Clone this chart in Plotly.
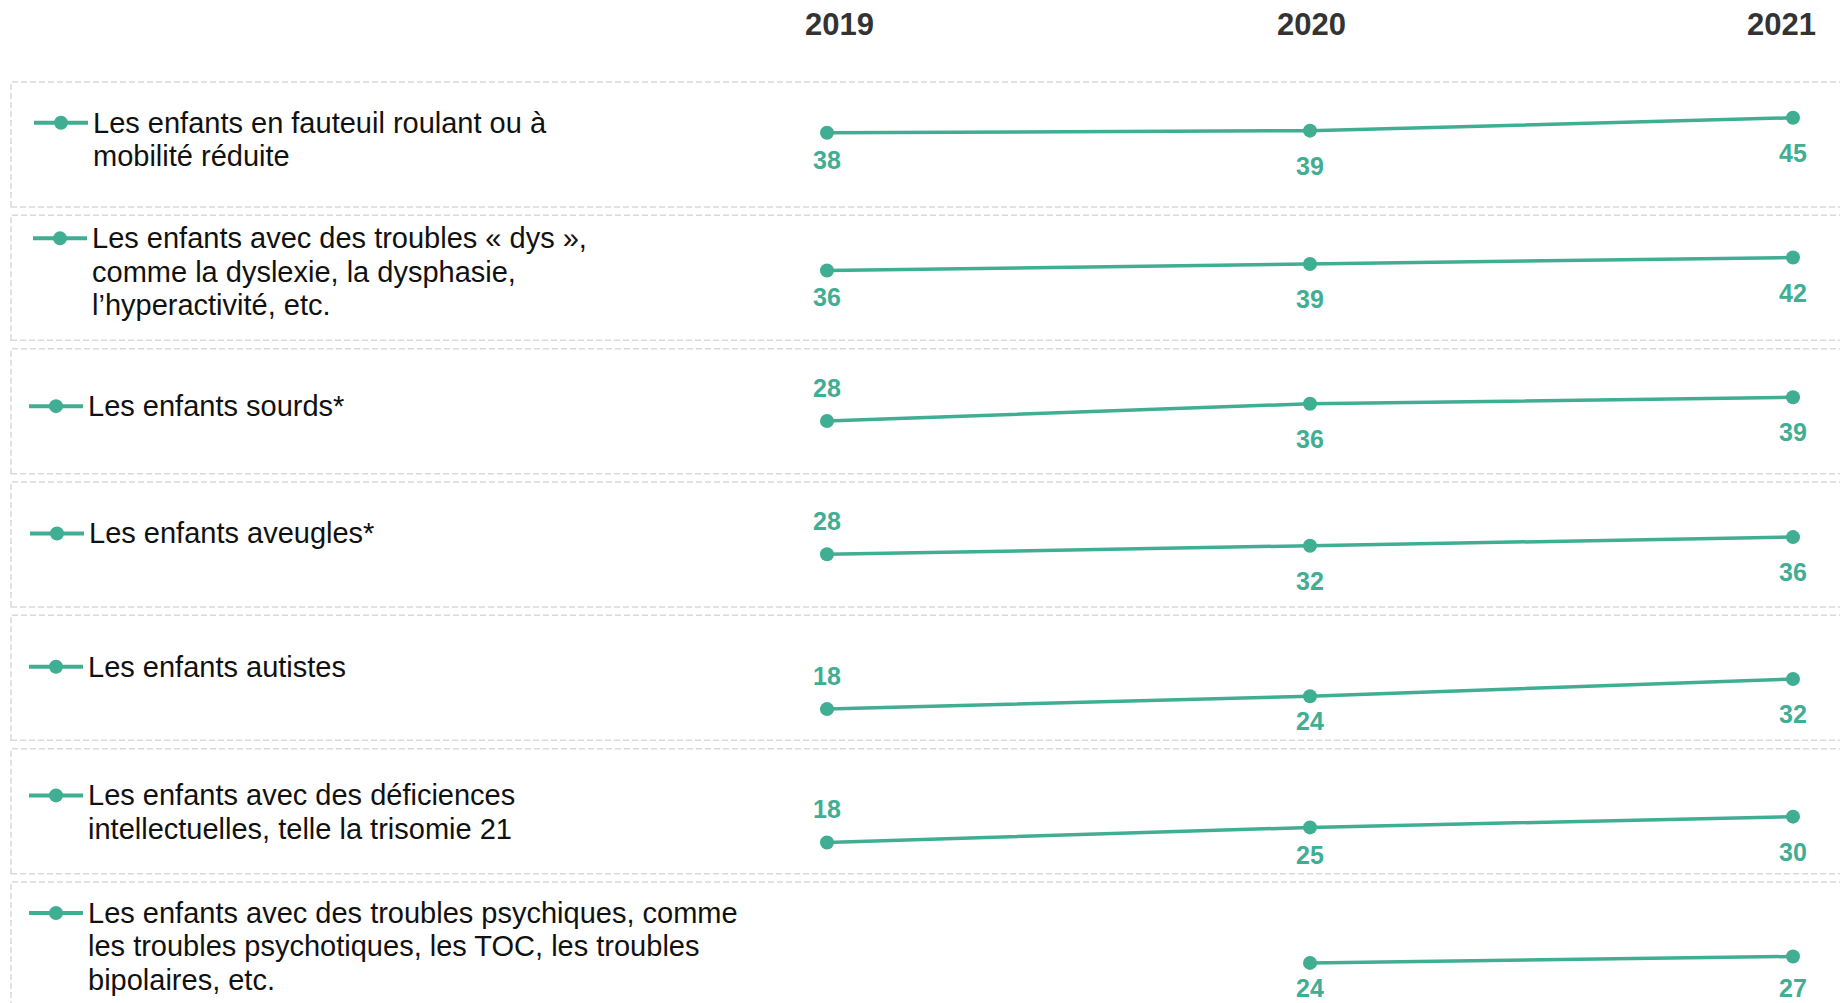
import plotly.graph_objects as go

# ---------------- data ----------------
years = [2019, 2020, 2021]
year_labels = ["2019", "2020", "2021"]

categories = [
    ["Les enfants en fauteuil roulant ou à", "mobilité réduite"],
    ["Les enfants avec des troubles « dys »,", "comme la dyslexie, la dysphasie,", "l’hyperactivité, etc."],
    ["Les enfants sourds*"],
    ["Les enfants aveugles*"],
    ["Les enfants autistes"],
    ["Les enfants avec des déficiences", "intellectuelles, telle la trisomie 21"],
    ["Les enfants avec des troubles psychiques, comme",
     "les troubles psychotiques, les TOC, les troubles", "bipolaires, etc."],
]

fauteuil = [38, 39, 45]
dys = [36, 39, 42]
sourds = [28, 36, 39]
aveugles = [28, 32, 36]
autistes = [18, 24, 32]
deficiences = [18, 25, 30]
psychiques = [None, 24, 27]

series = [fauteuil, dys, sourds, aveugles, autistes, deficiences, psychiques]

# ---------------- style ----------------
W, H = 1840, 1003
TEAL = "#40AE93"
FONT = "Liberation Sans, Arial, sans-serif"

row_top0 = 82.0
row_pitch = 133.33
row_h = 125.0
px_per_unit = 2.15
zero_offset = 132.5          # px from row top where value 0 would sit
label_bottom_pad = 19.0      # value labels stay this far above the row's bottom edge

# first-label (2019) placement: 'below' or 'above'
first_label_pos = ["below", "below", "above", "above", "above", "above", "below"]
legend_text_x = [93, 92, 88, 89, 88, 88, 88]
legend_block_shift = [-5, -6, -5, -11, -11, 1, 2]
line_gap = 33.5
text_pad = 2.5

x_left_px, x_right_px = 827.0, 1793.0
px_per_year = (x_right_px - x_left_px) / (years[-1] - years[0])
x_range = [years[0] - x_left_px / px_per_year, years[-1] + (W - x_right_px) / px_per_year]


def py(px):
    return 1 - px / H


def pxx(px):
    return px / W


fig = go.Figure()
layout = dict(
    width=W, height=H,
    margin=dict(l=0, r=0, t=0, b=0),
    paper_bgcolor="white", plot_bgcolor="rgba(0,0,0,0)",
    showlegend=False,
    xaxis=dict(range=x_range, domain=[0, 1], visible=False, fixedrange=True),
)
shapes = []
annotations = []

for i, (vals, lines) in enumerate(zip(series, categories)):
    top = row_top0 + row_pitch * i
    h = min(row_h, H - top)
    ax = "y" if i == 0 else f"y{i + 1}"
    axkey = "yaxis" if i == 0 else f"yaxis{i + 1}"
    layout[axkey] = dict(
        domain=[py(top + h), py(top)],
        range=[(zero_offset - h) / px_per_unit, zero_offset / px_per_unit],
        visible=False, anchor="x", fixedrange=True,
    )

    # row box
    shapes.append(dict(
        type="rect", xref="paper", yref="paper",
        x0=pxx(11), x1=pxx(W + 20), y0=py(top + row_h), y1=py(top),
        line=dict(color="#d9d9d9", width=1.5, dash="6px,3px"),
        fillcolor="rgba(0,0,0,0)", layer="below",
    ))

    # trace
    fig.add_trace(go.Scatter(
        x=years, y=vals, xaxis="x", yaxis=ax,
        mode="lines+markers",
        line=dict(color=TEAL, width=3.5),
        marker=dict(color=TEAL, size=14),
        hoverinfo="skip", connectgaps=False,
    ))

    # value labels
    label_max_px = top + row_h - label_bottom_pad
    first_valid = next(j for j, v in enumerate(vals) if v is not None)
    for j, (yr, v) in enumerate(zip(years, vals)):
        if v is None:
            continue
        if j == first_valid and first_label_pos[i] == "above":
            ys = 33
        elif j == first_valid:
            ys = -27
        else:
            ys = -35
        if ys < 0:
            point_px = top + zero_offset - px_per_unit * v
            if point_px - ys > label_max_px:
                ys = -(label_max_px - point_px)
        annotations.append(dict(
            x=yr, y=v, xref="x", yref=ax, text=str(v), showarrow=False,
            xanchor="center", yanchor="middle", yshift=ys,
            font=dict(family=FONT, size=25, color=TEAL, weight="bold"),
        ))

    # legend text (one annotation per line)
    n = len(lines)
    center = top + row_h / 2 + legend_block_shift[i]
    first_y = center - (n - 1) * line_gap / 2
    tx = legend_text_x[i]
    for k, ln in enumerate(lines):
        annotations.append(dict(
            x=pxx(tx - text_pad), y=py(first_y + k * line_gap), xref="paper", yref="paper",
            text=ln, showarrow=False, xanchor="left", yanchor="middle",
            font=dict(family=FONT, size=29, color="#111111"),
        ))

    # legend marker
    mx0, mx1 = tx - 59, tx - 5
    shapes.append(dict(
        type="line", xref="paper", yref="paper",
        x0=pxx(mx0), x1=pxx(mx1), y0=py(first_y), y1=py(first_y),
        line=dict(color=TEAL, width=4),
    ))
    shapes.append(dict(
        type="circle", xref="paper", yref="paper",
        xsizemode="pixel", ysizemode="pixel",
        xanchor=pxx((mx0 + mx1) / 2), yanchor=py(first_y),
        x0=-7, x1=7, y0=-7, y1=7,
        fillcolor=TEAL, line=dict(color=TEAL, width=0),
    ))

# year header
year_shift = [12, 1, -12]
for yr, lab, sh in zip(years, year_labels, year_shift):
    annotations.append(dict(
        x=yr, y=py(25), xref="x", yref="paper", text=lab, showarrow=False,
        xanchor="center", yanchor="middle", xshift=sh,
        font=dict(family=FONT, size=31, color="#333333", weight="bold"),
    ))

layout["shapes"] = shapes
layout["annotations"] = annotations
fig.update_layout(**layout)

fig.write_html(
    "out.html",
    config={"displayModeBar": False, "staticPlot": True},
    post_script="document.body.style.margin='0px';document.body.style.overflow='hidden';",
)
